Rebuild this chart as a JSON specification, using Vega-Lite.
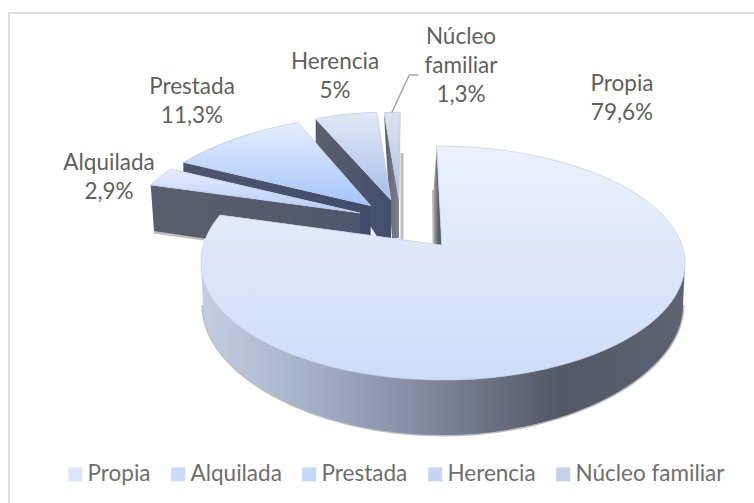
{
"$schema":"https://vega.github.io/schema/vega-lite/v6.json",
"width":770,"height":510,
"autosize":{"type":"none"},
"padding":{"left":9,"top":13,"right":0,"bottom":0},
"background":"#ffffff",
"view":{"stroke":"#dedede","strokeWidth":2,"fill":null},
"data":{"values":[
{"categoria":"Núcleo familiar","valor":1.3,"etiqueta":"Núcleo\nfamiliar\n1,3%"},
{"categoria":"Herencia","valor":5,"etiqueta":"Herencia\n5%"},
{"categoria":"Prestada","valor":11.3,"etiqueta":"Prestada\n11,3%"},
{"categoria":"Alquilada","valor":2.9,"etiqueta":"Alquilada\n2,9%"},
{"categoria":"Propia","valor":79.6,"etiqueta":"Propia\n79,6%"}
]},
"resolve":{"scale":{"shape":"independent"}},
"layer":[
{"mark":{"type":"point","filled":false,"size":4,"opacity":0.55,"stroke":"#8a8a8a","strokeWidth":3},
 "encoding":{"shape":{"field":"categoria","type":"nominal","legend":null,"scale":{
  "domain":["Propia","Alquilada","Prestada","Herencia","Núcleo familiar"],
  "range":[
   "M-191,37 C-191,107 -79,167 49,167 C176,167 289,107 289,37",
   "M-240,-36 L-190,-29",
   "M39.5,-78 L40,-23",
   "M-78.3,-126 L-78.3,-126",
   "M8,-115 L8,-28"]}}}},
{"transform":[{"filter":"datum.categoria==='Núcleo familiar'"}],"mark":{"type":"point","filled":true,"size":4,"opacity":1,"strokeWidth":0,"shape":"M-10,-155.3 L5,-68.7 L5,-30 L-2,-30 L-8,-118 Z","fill":{"gradient":"linear","x1":0,"y1":0,"x2":1,"y2":0,"stops":[{"offset":0,"color":"#5a5f6c"},{"offset":1,"color":"#7c8290"}]}},"encoding":{}},
{"transform":[{"filter":"datum.categoria==='Herencia'"}],"mark":{"type":"point","filled":true,"size":4,"opacity":1,"strokeWidth":0,"shape":"M-78.3,-149 L-3,-68 L-3,-30 L-16,-30 L-78.3,-126 Z","fill":{"gradient":"linear","x1":0,"y1":0,"x2":1,"y2":0,"stops":[{"offset":0,"color":"#5c606c"},{"offset":1,"color":"#414e6c"}]}},"encoding":{}},
{"transform":[{"filter":"datum.categoria==='Prestada'"}],"mark":{"type":"point","filled":true,"size":4,"opacity":1,"strokeWidth":0,"shape":"M-210.7,-105.7 L-23.3,-62.3 L-23.3,-28 L-34,-28 L-34,-55 L-210.7,-96.3 Z","fill":{"gradient":"linear","x1":0,"y1":0,"x2":1,"y2":0,"stops":[{"offset":0,"color":"#4d566b"},{"offset":1,"color":"#3f4c6c"}]}},"encoding":{}},
{"transform":[{"filter":"datum.categoria==='Alquilada'"}],"mark":{"type":"point","filled":true,"size":4,"opacity":1,"strokeWidth":0,"shape":"M-243.3,-83 L-34,-55 L-34,-6 L-240,-37 Z","fill":{"gradient":"linear","x1":0,"y1":0,"x2":1,"y2":0,"stops":[{"offset":0,"color":"#5b5f6c"},{"offset":1,"color":"#4d576c"}]}},"encoding":{}},
{"transform":[{"filter":"datum.categoria==='Propia'"}],"mark":{"type":"point","filled":true,"size":4,"opacity":1,"strokeWidth":0,"shape":"M-193,-5 L-191,37 C-191,107 -79,167 49,167 C176,167 289,107 289,37 L291,-5 Z","fill":{"gradient":"linear","x1":0,"y1":0,"x2":1,"y2":0,"stops":[{"offset":0,"color":"#c4cfe2"},{"offset":0.2,"color":"#a8b4ca"},{"offset":0.4,"color":"#8a94aa"},{"offset":0.6,"color":"#6b7183"},{"offset":0.74,"color":"#535866"},{"offset":1,"color":"#5e6371"}]}},"encoding":{}},
{"transform":[{"filter":"datum.categoria==='Propia'"}],"mark":{"type":"point","filled":true,"size":4,"opacity":1,"strokeWidth":0,"shape":"M43,-122 L47.7,-23 L40,-23 L39.5,-78 Z","fill":{"gradient":"linear","x1":0,"y1":0,"x2":1,"y2":0,"stops":[{"offset":0,"color":"#a5a7ab"},{"offset":0.6,"color":"#5b5f6a"},{"offset":1,"color":"#50545f"}]}},"encoding":{}},
{"mark":{"type":"point","filled":true,"size":4,"opacity":1,"strokeWidth":0},
 "encoding":{"shape":{"field":"categoria","type":"nominal","legend":null,"scale":{
  "domain":["Propia","Alquilada","Prestada","Herencia","Núcleo familiar"],
  "range":[
   "M42.7,-122 C179,-122 291,-69 291,-5 C291,60 182,112 49,112 C-84,112 -193,60 -193,-5 C-193,-23 -186,-39 -174,-53 L47.7,-23 Z",
   "M-243.3,-83 Q-234,-92 -223.3,-99 L-34,-55 Z",
   "M-210.7,-105.7 Q-164,-133 -96.3,-145.7 L-23.3,-62.3 Z",
   "M-78.3,-149 Q-49,-155 -17.3,-155.7 L-3,-68 Z",
   "M-10,-155.3 L6.3,-155.7 L5,-68.7 Z"]}},
  "fill":{"field":"categoria","type":"nominal","title":null,"scale":{
  "domain":["Propia","Alquilada","Prestada","Herencia","Núcleo familiar"],
  "range":["#dde6f9","#ccdbfa","#c5d8fb","#c5d4f0","#c5d1e8"]},
  "legend":{"orient":"none","legendX":55,"legendY":450,"direction":"horizontal","columns":5,"columnPadding":16,"padding":0,"symbolType":"square","symbolSize":196,"symbolStrokeWidth":0,"labelOffset":1,"labelFont":"Lato","labelFontSize":22.5,"labelColor":"#6e6e6e","labelLimit":300,"gridAlign":"each"}}}},
{"transform":[{"filter":"datum.categoria==='Núcleo familiar'"}],"mark":{"type":"point","filled":true,"size":4,"opacity":1,"stroke":"#c2cada","strokeWidth":0.6,"shape":"M-10,-155.3 L6.3,-155.7 L5,-68.7 Z","fill":{"gradient":"linear","x1":0,"y1":0,"x2":0,"y2":1,"stops":[{"offset":0,"color":"#dbe3f1"},{"offset":1,"color":"#b0bfdf"}]}},"encoding":{}},
{"transform":[{"filter":"datum.categoria==='Herencia'"}],"mark":{"type":"point","filled":true,"size":4,"opacity":1,"stroke":"#c2cada","strokeWidth":0.6,"shape":"M-78.3,-149 Q-49,-155 -17.3,-155.7 L-3,-68 Z","fill":{"gradient":"linear","x1":0,"y1":0,"x2":0,"y2":1,"stops":[{"offset":0,"color":"#e2e9f7"},{"offset":1,"color":"#a8bfea"}]}},"encoding":{}},
{"transform":[{"filter":"datum.categoria==='Prestada'"}],"mark":{"type":"point","filled":true,"size":4,"opacity":1,"stroke":"#c2cada","strokeWidth":0.6,"shape":"M-210.7,-105.7 Q-164,-133 -96.3,-145.7 L-23.3,-62.3 Z","fill":{"gradient":"linear","x1":0,"y1":0,"x2":0,"y2":1,"stops":[{"offset":0,"color":"#e6eefc"},{"offset":1,"color":"#a5c4fb"}]}},"encoding":{}},
{"transform":[{"filter":"datum.categoria==='Alquilada'"}],"mark":{"type":"point","filled":true,"size":4,"opacity":1,"stroke":"#c2cada","strokeWidth":0.6,"shape":"M-243.3,-83 Q-234,-92 -223.3,-99 L-34,-55 Z","fill":{"gradient":"linear","x1":0,"y1":0,"x2":0,"y2":1,"stops":[{"offset":0,"color":"#e6edfb"},{"offset":1,"color":"#b3cbf9"}]}},"encoding":{}},
{"transform":[{"filter":"datum.categoria==='Propia'"}],"mark":{"type":"point","filled":true,"size":4,"opacity":1,"stroke":"#c2cada","strokeWidth":0.6,"shape":"M42.7,-122 C179,-122 291,-69 291,-5 C291,60 182,112 49,112 C-84,112 -193,60 -193,-5 C-193,-23 -186,-39 -174,-53 L47.7,-23 Z","fill":{"gradient":"linear","x1":0,"y1":0,"x2":0,"y2":1,"stops":[{"offset":0,"color":"#ecf1fb"},{"offset":1,"color":"#cddcf7"}]}},"encoding":{}},
{"transform":[{"filter":"datum.categoria==='Núcleo familiar'"}],
 "mark":{"type":"point","filled":false,"size":4,"opacity":1,"stroke":"#a6a6a6","strokeWidth":1.5,"shape":"M-2.3,-155.3 L15.3,-193 L24.3,-193"},"encoding":{}},
{"transform":[{"filter":"datum.categoria==='Propia'"}],"mark":{"type":"text","font":"Lato","fontSize":22.5,"color":"#5f5f5f","lineBreak":"\n","lineHeight":29,"align":"center","baseline":"middle","dx":228,"dy":-184},"encoding":{"text":{"field":"etiqueta"}}},
{"transform":[{"filter":"datum.categoria==='Núcleo familiar'"}],"mark":{"type":"text","font":"Lato","fontSize":22.5,"color":"#5f5f5f","lineBreak":"\n","lineHeight":29,"align":"center","baseline":"middle","dx":67,"dy":-231},"encoding":{"text":{"field":"etiqueta"}}},
{"transform":[{"filter":"datum.categoria==='Herencia'"}],"mark":{"type":"text","font":"Lato","fontSize":22.5,"color":"#5f5f5f","lineBreak":"\n","lineHeight":29,"align":"center","baseline":"middle","dx":-59,"dy":-206},"encoding":{"text":{"field":"etiqueta"}}},
{"transform":[{"filter":"datum.categoria==='Prestada'"}],"mark":{"type":"text","font":"Lato","fontSize":22.5,"color":"#5f5f5f","lineBreak":"\n","lineHeight":29,"align":"center","baseline":"middle","dx":-202,"dy":-181},"encoding":{"text":{"field":"etiqueta"}}},
{"transform":[{"filter":"datum.categoria==='Alquilada'"}],"mark":{"type":"text","font":"Lato","fontSize":22.5,"color":"#5f5f5f","lineBreak":"\n","lineHeight":29,"align":"center","baseline":"middle","dx":-285,"dy":-105},"encoding":{"text":{"field":"etiqueta"}}}
]
}
